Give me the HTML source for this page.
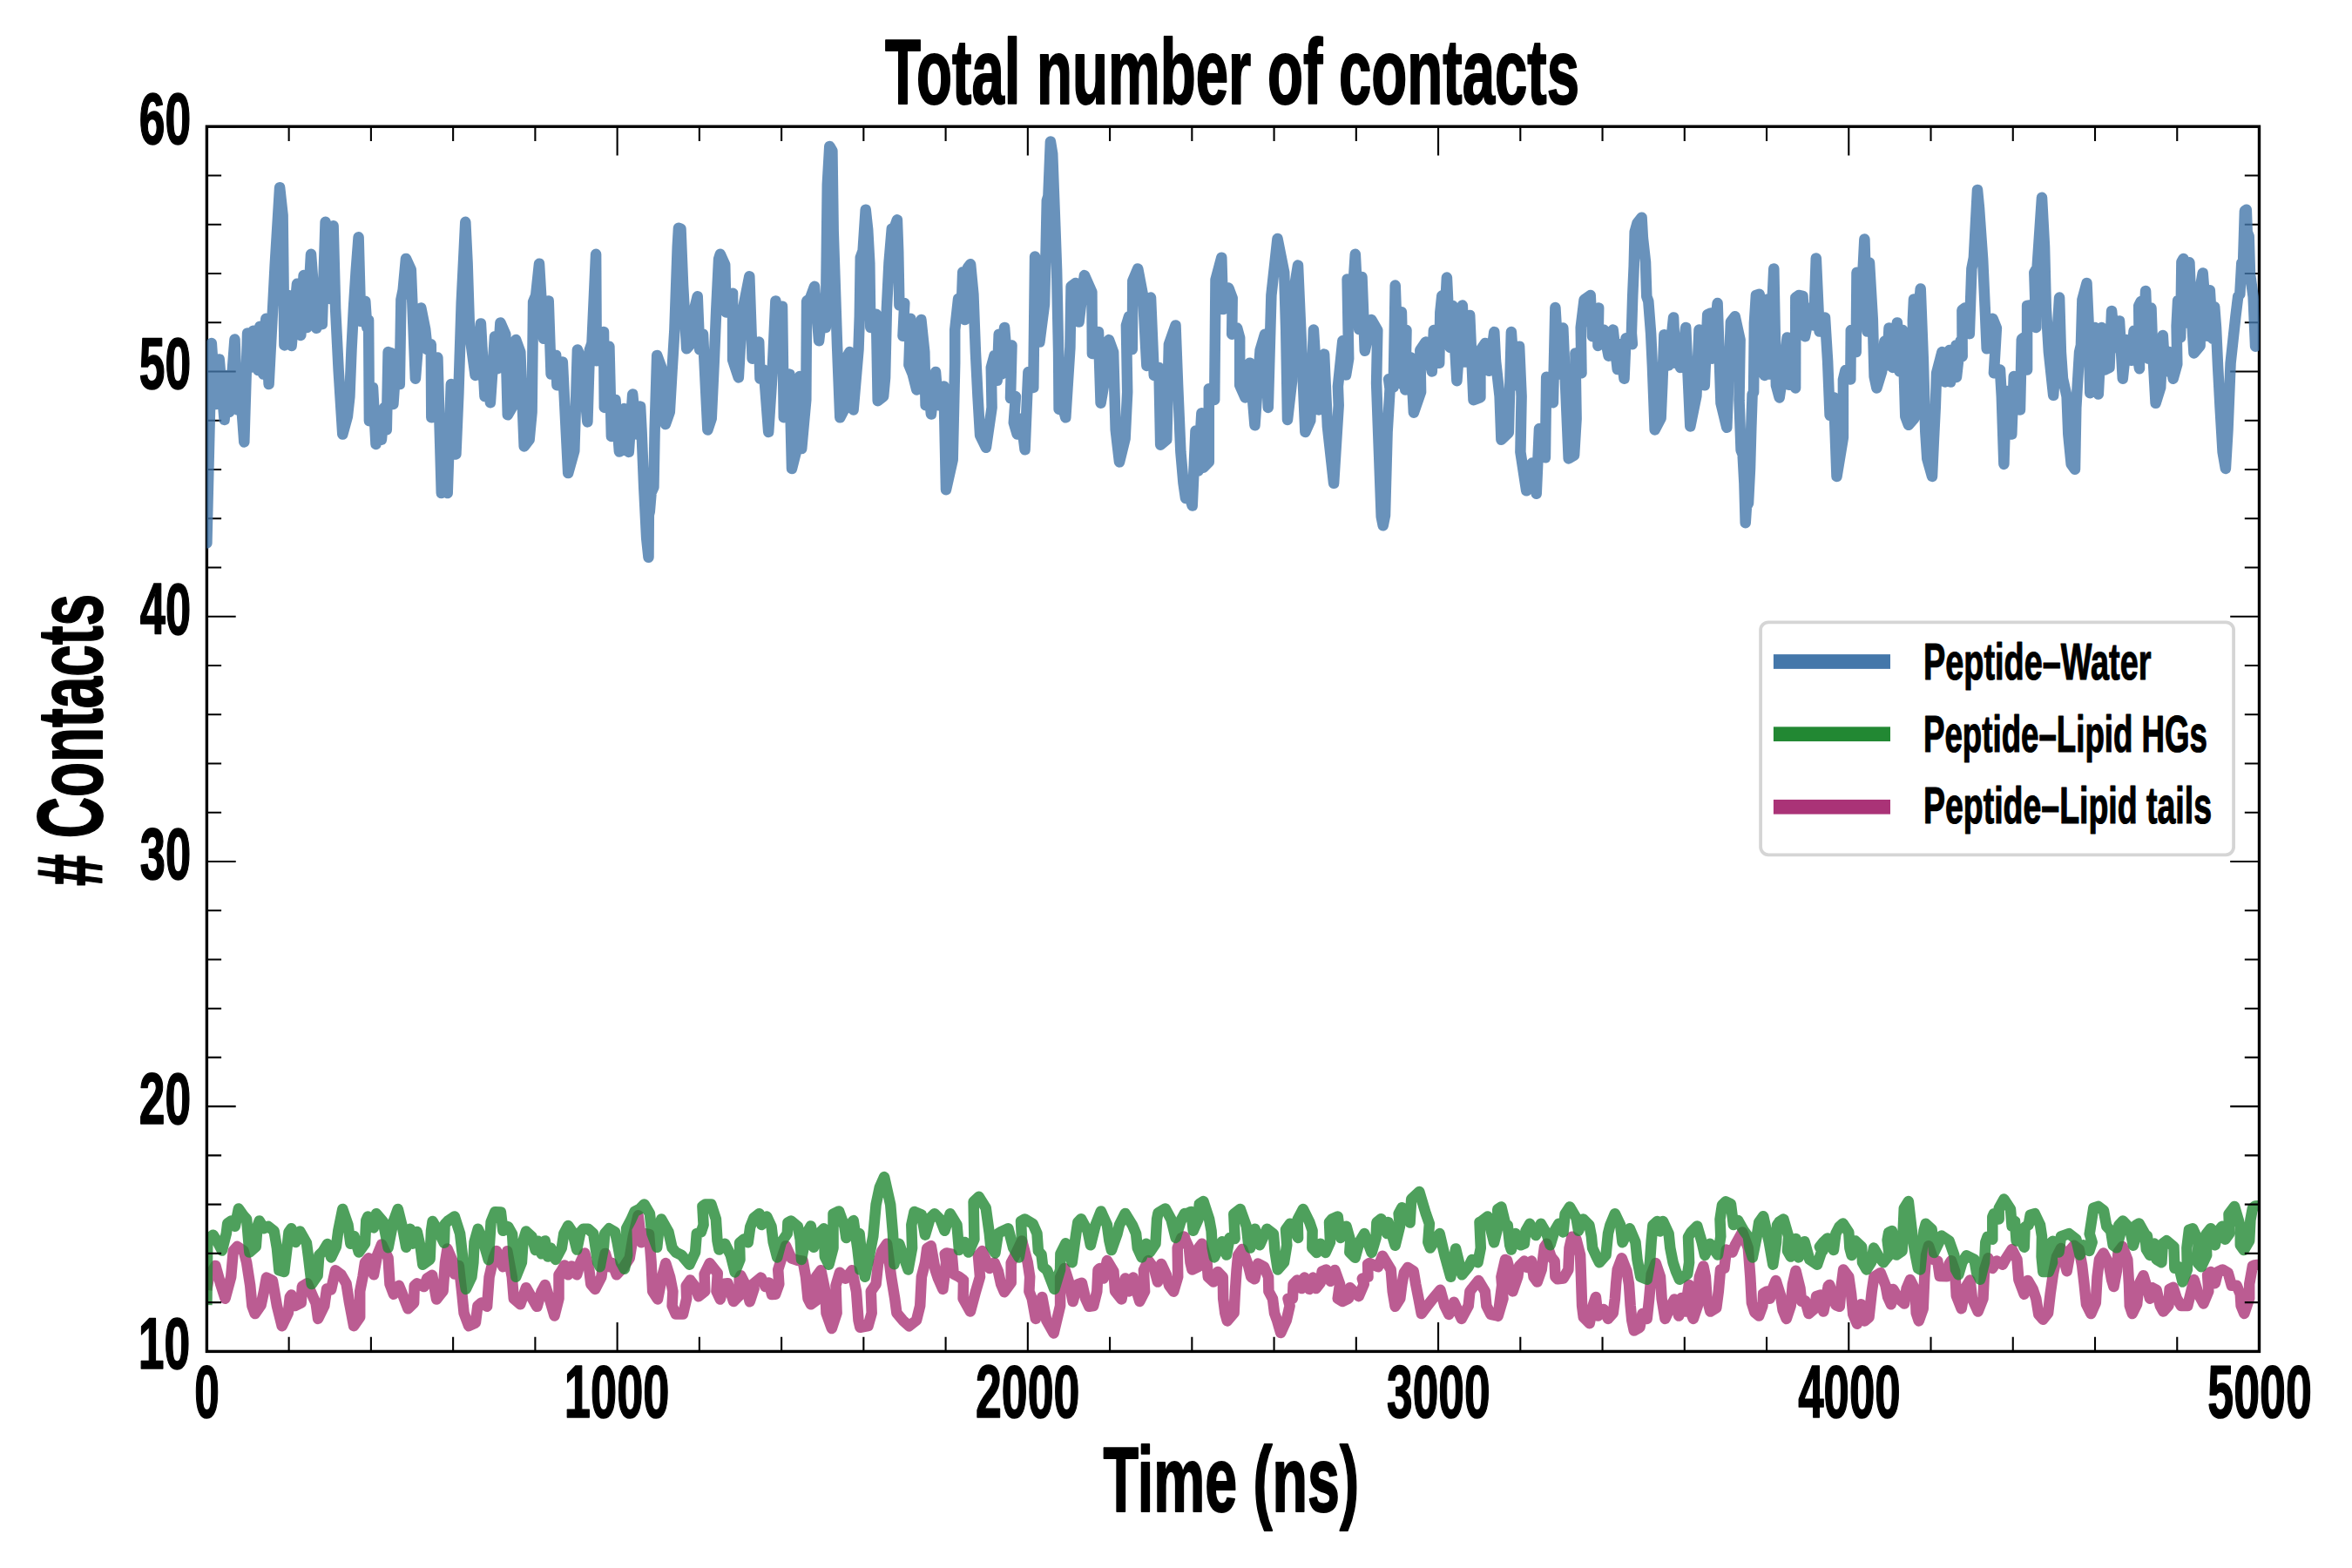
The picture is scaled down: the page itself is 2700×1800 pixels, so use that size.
<!DOCTYPE html>
<html><head><meta charset="utf-8"><title>Total number of contacts</title>
<style>
html,body{margin:0;padding:0;background:#fff;}
body{width:2700px;height:1800px;overflow:hidden;}
svg{display:block;}
text{font-family:"Liberation Sans",sans-serif;font-weight:bold;fill:#000;}
</style></head><body>
<svg width="2700" height="1800" viewBox="0 0 2700 1800">
<rect x="0" y="0" width="2700" height="1800" fill="#ffffff"/>
<defs><clipPath id="ax"><rect x="237.40" y="145.25" width="2356.10" height="1406.15"/></clipPath></defs>

<g clip-path="url(#ax)">
<polyline points="237.4,1480.7 239.9,1465.8 247.4,1452.9 253.2,1474.1 258.5,1490.7 265.2,1465.8 267.8,1436.0 272.3,1431.0 279.7,1436.0 283.1,1449.2 287.2,1475.8 289.4,1499.0 292.7,1508.1 299.6,1498.1 303.0,1482.4 305.9,1466.6 312.9,1470.0 317.9,1499.0 323.7,1522.2 330.8,1507.3 332.8,1489.0 334.5,1486.5 338.6,1499.0 345.7,1495.7 346.9,1476.6 352.7,1473.3 360.2,1490.7 362.6,1495.7 365.1,1513.9 372.3,1499.0 375.1,1479.4 380.1,1480.4 385.0,1458.3 391.7,1463.3 397.5,1473.3 400.8,1494.0 406.1,1522.2 413.2,1511.9 413.2,1482.4 416.5,1465.8 419.0,1449.2 423.2,1444.3 429.0,1463.3 433.1,1440.9 438.1,1428.5 445.6,1444.3 447.5,1474.1 451.9,1485.7 458.0,1475.8 463.0,1488.2 468.4,1502.3 475.1,1495.7 475.7,1476.1 478.7,1473.3 486.7,1477.1 490.3,1467.5 496.1,1463.8 501.1,1491.5 508.6,1482.1 511.0,1449.2 513.5,1433.5 520.2,1449.2 521.8,1462.5 526.8,1452.9 530.1,1482.4 532.6,1507.3 538.1,1522.2 545.9,1518.5 548.4,1499.0 552.5,1495.7 559.1,1499.8 561.6,1465.8 566.6,1444.3 569.9,1436.0 577.4,1454.2 582.3,1436.3 587.8,1465.8 589.8,1490.7 597.3,1497.3 603.9,1478.2 616.3,1499.8 616.6,1499.8 621.6,1482.4 625.7,1474.9 630.7,1490.7 636.5,1510.6 641.5,1490.7 641.5,1463.3 644.4,1459.2 648.1,1452.5 652.2,1463.3 656.4,1453.4 662.2,1463.3 666.3,1449.2 671.3,1438.5 676.3,1457.5 678.3,1474.1 683.2,1479.9 690.4,1465.8 692.5,1449.2 694.8,1438.9 699.5,1454.2 702.8,1450.1 707.8,1463.3 716.1,1454.2 722.7,1444.3 726.8,1419.4 732.6,1395.3 736.3,1426.3 740.1,1416.1 745.1,1416.9 747.6,1449.2 749.2,1482.4 755.0,1491.5 760.0,1465.8 764.2,1450.1 769.1,1465.8 772.4,1482.4 771.6,1499.0 775.8,1508.6 784.0,1508.6 788.2,1490.7 787.7,1476.1 792.3,1469.5 797.3,1476.1 802.0,1488.2 809.3,1482.4 808.6,1462.8 814.7,1450.1 823.8,1461.7 822.5,1482.4 826.8,1491.5 831.3,1473.8 835.5,1473.3 842.1,1494.0 848.7,1487.4 848.7,1467.8 850.4,1464.2 856.2,1475.8 860.7,1494.3 865.6,1479.4 864.5,1474.1 873.6,1466.6 878.6,1477.1 882.7,1472.4 886.0,1486.0 890.2,1485.7 894.3,1474.1 893.2,1457.5 896.8,1445.9 902.1,1430.2 908.4,1444.3 915.0,1446.7 921.7,1447.6 925.0,1465.8 927.5,1490.7 930.8,1497.3 938.3,1492.0 936.9,1465.8 942.4,1458.3 947.4,1482.4 948.5,1507.3 954.8,1525.0 960.6,1507.3 959.5,1475.8 964.0,1460.8 970.6,1467.8 978.0,1458.3 983.0,1482.4 985.5,1515.6 987.4,1523.8 996.5,1522.2 1000.7,1507.3 999.8,1482.4 1005.6,1474.1 1008.1,1450.1 1012.3,1436.3 1018.1,1427.7 1023.1,1465.8 1027.2,1490.7 1029.4,1507.3 1036.3,1515.6 1043.5,1522.2 1052.1,1515.6 1056.2,1499.0 1057.9,1465.8 1062.0,1449.6 1064.2,1433.0 1068.7,1430.2 1073.6,1457.5 1076.9,1467.5 1082.4,1479.9 1086.1,1449.2 1084.7,1439.6 1086.6,1438.5 1092.7,1439.6 1094.7,1462.5 1101.0,1465.8 1106.0,1469.5 1105.6,1490.7 1113.9,1505.6 1120.1,1482.4 1125.0,1465.8 1122.9,1441.3 1127.5,1436.0 1135.8,1455.9 1141.6,1449.6 1145.8,1459.2 1149.1,1474.1 1152.9,1483.2 1160.7,1472.4 1160.7,1449.6 1164.3,1442.9 1173.1,1424.4 1179.7,1449.2 1182.2,1465.8 1181.4,1482.4 1184.7,1490.7 1188.9,1513.9 1196.3,1489.0 1201.3,1515.6 1209.6,1530.5 1217.1,1499.0 1217.1,1466.1 1222.0,1455.9 1227.8,1474.1 1231.6,1494.0 1237.0,1474.4 1241.9,1472.8 1246.1,1490.7 1250.2,1499.8 1255.2,1499.0 1259.3,1482.4 1260.5,1457.9 1262.7,1455.9 1266.8,1467.5 1270.9,1447.1 1278.4,1459.5 1280.1,1482.4 1287.5,1491.5 1291.7,1467.5 1296.3,1482.4 1300.8,1466.6 1304.9,1482.4 1308.3,1494.0 1314.1,1482.4 1312.9,1457.9 1318.2,1447.1 1324.8,1455.9 1329.0,1471.6 1333.1,1450.9 1338.9,1463.3 1342.2,1475.8 1347.2,1482.7 1352.2,1465.8 1351.7,1432.6 1356.3,1421.0 1360.0,1420.2 1359.1,1419.4 1364.9,1432.6 1366.5,1449.2 1368.5,1457.5 1375.6,1454.2 1376.1,1432.6 1379.8,1427.7 1385.6,1449.2 1386.8,1465.8 1393.1,1471.6 1398.0,1460.0 1403.8,1466.1 1404.2,1490.7 1406.3,1507.3 1408.8,1516.4 1416.6,1507.3 1417.9,1482.4 1419.6,1457.5 1421.2,1440.9 1426.2,1434.0 1432.9,1452.5 1436.2,1465.8 1440.3,1468.3 1444.1,1450.6 1451.1,1454.2 1456.1,1466.1 1456.4,1482.4 1461.0,1491.0 1463.0,1507.3 1466.0,1515.6 1470.2,1530.1 1476.8,1515.6 1480.6,1499.0 1478.5,1490.7 1483.9,1490.7 1484.6,1474.1 1489.2,1469.5 1494.2,1479.1 1497.5,1466.6 1503.3,1479.9 1507.5,1466.6 1510.8,1479.1 1515.8,1472.4 1517.7,1459.5 1522.4,1457.5 1527.4,1470.8 1532.3,1457.9 1538.1,1474.1 1535.7,1490.7 1541.0,1494.0 1548.1,1490.7 1549.7,1478.2 1559.7,1488.2 1565.8,1474.1 1563.8,1467.8 1570.5,1465.8 1570.1,1451.2 1572.1,1450.1 1582.1,1454.2 1587.1,1441.8 1596.7,1457.5 1598.7,1482.4 1601.6,1499.8 1607.3,1490.7 1609.4,1474.1 1611.9,1460.8 1616.1,1455.0 1622.7,1459.2 1625.2,1474.1 1628.5,1490.7 1631.8,1508.1 1638.5,1499.0 1645.1,1490.7 1653.4,1480.7 1658.4,1499.0 1663.3,1508.9 1669.1,1494.8 1677.8,1513.9 1685.7,1499.0 1687.4,1482.4 1689.9,1479.1 1697.3,1470.0 1704.8,1482.4 1706.4,1499.0 1711.4,1508.9 1719.7,1510.6 1725.5,1490.7 1723.4,1465.8 1728.0,1445.9 1719.6,1510.9 1724.1,1490.7 1725.8,1465.8 1730.2,1447.2 1734.9,1465.8 1736.5,1482.4 1742.3,1465.8 1744.0,1453.4 1749.8,1447.6 1753.1,1455.0 1758.1,1447.6 1760.6,1465.8 1764.7,1471.6 1769.7,1457.5 1771.7,1440.9 1773.0,1431.3 1775.5,1427.7 1780.5,1442.6 1784.6,1447.6 1785.4,1465.8 1787.9,1468.3 1794.6,1467.5 1800.4,1457.5 1801.5,1432.6 1804.5,1419.7 1809.5,1422.7 1814.1,1440.9 1815.0,1465.8 1816.1,1499.0 1817.8,1512.2 1824.7,1519.2 1828.6,1499.0 1831.9,1489.0 1834.4,1510.6 1841.0,1503.1 1846.0,1513.9 1851.8,1507.3 1853.9,1490.7 1855.1,1474.1 1856.7,1457.5 1861.7,1444.3 1867.5,1459.2 1870.0,1474.1 1871.7,1499.0 1873.3,1515.6 1875.8,1527.5 1882.4,1523.8 1885.4,1508.1 1890.7,1513.9 1893.2,1490.7 1895.7,1462.5 1900.7,1450.1 1906.0,1465.8 1907.6,1490.7 1911.5,1513.9 1918.1,1499.0 1922.2,1491.5 1927.2,1510.6 1930.5,1489.9 1934.2,1505.6 1938.8,1474.9 1941.3,1507.3 1943.8,1513.9 1948.8,1499.0 1950.8,1465.8 1955.4,1453.4 1957.9,1465.8 1959.5,1490.7 1963.4,1505.6 1970.3,1501.5 1972.8,1482.4 1975.0,1457.5 1979.4,1455.9 1981.9,1434.6 1988.6,1437.6 1991.9,1429.3 2000.2,1414.4 2006.8,1432.6 2009.3,1465.8 2010.9,1495.7 2014.3,1506.4 2019.2,1510.6 2023.4,1499.0 2024.2,1484.9 2028.4,1482.4 2031.7,1490.7 2035.0,1479.1 2038.6,1470.0 2044.1,1487.4 2046.6,1503.9 2050.7,1513.9 2055.7,1499.0 2057.9,1474.1 2061.5,1458.8 2066.5,1479.1 2068.1,1494.0 2072.3,1493.2 2076.4,1508.1 2083.1,1502.3 2085.1,1488.2 2089.7,1486.5 2093.0,1504.8 2097.7,1482.4 2098.8,1476.1 2093.3,1505.6 2097.4,1485.7 2100.2,1474.9 2104.9,1489.0 2107.4,1498.1 2111.8,1499.8 2114.0,1474.1 2116.1,1457.5 2122.3,1465.8 2125.1,1485.7 2127.3,1508.9 2131.9,1519.7 2136.4,1497.3 2140.5,1516.4 2145.5,1512.2 2148.8,1482.4 2151.3,1465.8 2158.8,1461.2 2164.6,1475.8 2167.1,1489.0 2170.9,1497.3 2173.2,1479.9 2179.5,1490.7 2186.1,1496.5 2188.6,1479.1 2192.8,1469.1 2198.6,1480.7 2199.7,1507.3 2202.7,1516.4 2207.7,1502.3 2209.3,1465.8 2211.0,1440.9 2214.0,1430.2 2219.3,1445.9 2224.3,1447.6 2226.7,1465.0 2235.0,1465.3 2237.5,1450.9 2240.0,1447.2 2244.2,1459.2 2245.8,1487.4 2251.6,1502.3 2255.8,1479.1 2261.6,1469.5 2264.0,1490.7 2270.7,1505.6 2276.5,1490.7 2278.1,1457.5 2282.3,1444.3 2287.3,1455.9 2292.2,1447.6 2298.9,1451.7 2303.0,1444.3 2309.6,1434.0 2315.5,1445.9 2317.4,1469.1 2323.7,1485.7 2327.9,1470.0 2333.7,1479.9 2337.3,1490.7 2340.3,1508.9 2345.3,1514.7 2351.1,1507.3 2353.6,1485.7 2356.9,1462.5 2361.0,1442.6 2366.0,1433.0 2372.7,1459.2 2377.1,1434.3 2380.9,1429.8 2386.7,1434.3 2390.1,1452.5 2392.6,1474.1 2395.0,1497.3 2400.3,1508.1 2405.8,1495.7 2407.5,1465.8 2410.0,1445.9 2414.6,1438.5 2420.7,1450.1 2424.1,1469.1 2426.5,1477.1 2429.9,1459.2 2431.5,1437.6 2436.5,1431.0 2442.3,1445.9 2444.0,1474.1 2444.8,1499.0 2447.8,1508.1 2453.1,1497.3 2455.6,1474.1 2460.5,1464.2 2465.5,1480.7 2468.0,1490.7 2470.7,1478.2 2475.6,1480.7 2479.8,1498.9 2483.4,1505.5 2489.4,1498.9 2490.6,1479.8 2494.7,1477.7 2498.8,1490.6 2503.8,1498.9 2511.3,1498.9 2515.4,1482.3 2518.7,1469.1 2523.7,1485.6 2529.5,1496.4 2535.3,1482.3 2534.1,1463.3 2537.8,1460.0 2542.8,1473.2 2546.1,1460.0 2551.4,1457.5 2557.7,1461.1 2561.8,1475.7 2567.6,1475.7 2571.8,1485.6 2572.6,1498.9 2576.3,1508.0 2582.2,1490.6 2582.2,1474.0 2585.9,1453.3 2588.8,1452.2 2594.2,1451.8" fill="none" stroke="#AA3377" stroke-opacity="0.8" stroke-width="12.5" stroke-linejoin="round" stroke-linecap="butt"/>
<polyline points="237.4,1498.1 238.3,1422.7 244.6,1417.7 249.9,1426.0 254.9,1435.6 259.8,1416.1 261.2,1404.5 265.6,1401.5 269.8,1407.8 273.9,1387.5 279.7,1395.8 283.1,1399.5 286.4,1437.6 293.8,1431.0 295.5,1407.8 297.7,1401.5 303.0,1410.3 307.9,1407.8 314.6,1413.1 317.9,1432.6 320.4,1458.3 326.2,1460.0 329.5,1432.6 331.5,1414.4 334.5,1410.3 339.4,1426.0 344.4,1413.6 351.9,1426.8 354.0,1442.6 357.7,1474.1 364.6,1464.2 366.3,1440.9 370.9,1436.3 375.9,1428.0 380.1,1443.4 385.9,1431.0 388.3,1412.8 393.3,1387.9 399.5,1406.1 402.4,1427.7 406.6,1419.1 411.9,1437.6 419.0,1427.7 420.3,1401.1 422.3,1396.5 429.0,1409.4 432.0,1393.2 439.7,1402.3 445.6,1432.2 451.4,1402.8 456.8,1387.9 462.1,1409.4 466.3,1431.8 470.8,1410.8 473.7,1427.7 478.7,1413.9 482.9,1432.6 485.3,1451.7 493.6,1445.6 495.0,1412.8 496.6,1402.0 503.6,1414.4 509.9,1426.8 510.6,1405.3 514.4,1401.5 521.8,1396.5 528.1,1416.1 530.9,1440.9 532.6,1465.8 534.8,1479.9 541.4,1465.8 543.4,1449.2 544.5,1426.0 548.7,1410.8 554.2,1423.5 560.8,1446.2 563.6,1402.8 568.3,1391.2 574.9,1391.5 577.4,1412.8 583.2,1408.1 588.1,1416.9 589.5,1440.9 592.3,1465.8 598.9,1449.2 600.6,1424.4 603.9,1413.6 610.5,1419.7 614.7,1435.1 617.9,1424.7 621.6,1439.3 625.7,1424.4 629.0,1442.6 632.3,1432.6 637.8,1445.9 644.8,1432.6 647.3,1416.1 652.2,1406.9 657.2,1414.4 662.2,1434.6 666.3,1414.4 669.6,1410.8 675.4,1410.8 681.2,1416.1 683.7,1432.6 686.2,1449.2 688.7,1454.2 692.9,1432.6 694.2,1416.1 699.2,1410.3 706.1,1414.4 708.6,1426.0 712.8,1449.2 716.9,1456.7 720.2,1440.9 719.1,1410.3 724.4,1400.3 728.5,1390.9 734.3,1387.9 739.6,1382.4 745.9,1393.2 748.4,1416.1 754.2,1431.8 756.7,1407.8 759.2,1399.5 767.5,1414.4 771.6,1432.6 775.8,1437.6 782.4,1440.9 791.5,1451.7 798.1,1437.6 799.8,1416.1 804.8,1414.4 807.6,1406.1 806.4,1384.6 809.7,1382.4 816.4,1382.4 821.9,1399.5 823.5,1424.4 825.5,1434.6 832.1,1427.7 838.8,1440.9 843.7,1460.5 849.5,1445.9 849.0,1426.8 853.7,1422.7 858.7,1426.3 861.2,1408.6 865.3,1398.2 871.6,1393.2 874.4,1406.1 880.2,1396.5 885.5,1407.8 887.7,1426.0 892.2,1443.4 896.8,1426.0 899.3,1422.7 903.8,1416.1 904.4,1403.6 908.1,1401.6 915.9,1408.1 918.7,1422.7 920.0,1445.9 925.8,1416.1 930.8,1407.4 934.1,1431.8 939.9,1416.1 945.7,1410.3 946.9,1442.6 951.5,1451.7 956.5,1432.6 956.5,1393.7 963.1,1390.4 969.4,1407.8 971.4,1421.0 975.6,1406.1 979.7,1401.1 984.3,1432.6 987.2,1457.5 986.6,1416.1 989.1,1440.9 992.9,1465.8 999.0,1436.0 1002.3,1419.4 1005.6,1382.9 1009.8,1363.0 1015.1,1351.1 1022.2,1382.9 1025.0,1416.1 1026.4,1451.2 1032.2,1427.7 1042.5,1457.5 1047.1,1432.6 1046.3,1406.1 1049.6,1390.9 1057.9,1394.5 1062.0,1417.7 1067.8,1398.2 1072.8,1393.2 1079.4,1399.8 1084.4,1412.8 1090.7,1393.2 1098.5,1406.1 1101.0,1435.1 1107.6,1426.0 1111.8,1437.6 1118.4,1422.7 1117.6,1379.6 1123.7,1373.8 1131.7,1386.6 1135.8,1416.1 1137.1,1429.3 1142.4,1438.5 1145.8,1416.1 1149.9,1413.6 1157.4,1410.3 1163.2,1432.6 1169.8,1443.4 1173.1,1424.4 1172.0,1402.0 1176.4,1399.5 1185.6,1404.8 1190.5,1416.1 1191.9,1436.0 1195.5,1440.1 1197.2,1454.2 1202.1,1458.3 1210.4,1479.9 1217.1,1457.5 1217.4,1439.3 1223.4,1427.3 1230.7,1449.2 1235.3,1416.1 1237.3,1403.1 1241.1,1399.2 1248.6,1413.1 1251.9,1429.3 1257.7,1406.1 1263.8,1390.4 1270.9,1406.1 1273.4,1424.4 1275.9,1435.1 1282.6,1416.1 1285.0,1406.1 1291.7,1392.9 1300.0,1406.5 1304.1,1416.1 1305.8,1432.6 1310.7,1443.4 1315.7,1427.7 1319.9,1437.6 1326.5,1427.7 1328.1,1399.5 1329.5,1392.4 1337.8,1387.5 1344.4,1399.8 1349.7,1421.0 1356.3,1399.5 1360.0,1392.9 1354.9,1402.8 1359.9,1394.5 1367.4,1390.9 1369.8,1412.8 1375.6,1399.5 1376.8,1382.1 1381.5,1379.1 1388.1,1399.5 1390.6,1413.1 1391.7,1432.6 1393.9,1443.4 1403.0,1425.2 1408.0,1440.6 1411.6,1421.0 1417.6,1421.9 1416.3,1393.7 1423.7,1387.9 1430.9,1407.8 1432.9,1426.0 1435.3,1432.6 1440.6,1410.8 1446.1,1429.3 1454.4,1410.8 1461.9,1416.4 1463.5,1436.0 1466.8,1457.5 1474.0,1449.2 1477.3,1429.3 1476.0,1411.4 1480.9,1404.8 1490.1,1421.0 1489.6,1399.8 1495.9,1387.9 1503.3,1403.1 1506.6,1412.8 1506.3,1432.6 1511.6,1438.0 1515.8,1427.7 1521.6,1438.0 1527.0,1426.0 1526.0,1403.1 1529.0,1399.5 1535.7,1396.5 1539.0,1421.0 1545.6,1407.8 1550.2,1424.4 1549.3,1437.6 1555.6,1443.8 1560.5,1426.0 1566.3,1416.1 1574.6,1438.0 1579.6,1421.0 1580.4,1403.1 1585.4,1399.2 1592.0,1416.1 1593.7,1403.1 1601.6,1429.7 1607.0,1407.8 1605.6,1393.2 1609.4,1386.2 1618.6,1403.6 1620.2,1376.6 1629.3,1368.0 1636.8,1393.2 1640.9,1404.8 1639.3,1426.0 1641.8,1432.6 1652.6,1416.1 1658.4,1440.9 1665.3,1465.8 1671.1,1433.5 1678.3,1463.3 1685.7,1454.2 1689.9,1445.9 1696.5,1449.2 1699.8,1432.6 1698.5,1403.1 1700.6,1402.0 1707.8,1396.5 1715.1,1426.3 1719.7,1407.8 1719.2,1388.2 1723.4,1385.4 1728.8,1407.8 1730.7,1406.5 1733.2,1429.3 1734.9,1434.6 1739.8,1416.1 1745.6,1429.3 1749.8,1427.7 1751.5,1412.8 1756.1,1404.8 1763.1,1418.1 1768.9,1404.8 1775.5,1416.1 1779.6,1429.3 1784.6,1412.8 1789.3,1404.8 1794.6,1414.4 1796.6,1393.7 1802.0,1385.4 1809.5,1398.2 1812.0,1412.8 1817.4,1399.5 1824.4,1406.5 1826.9,1419.4 1828.1,1432.6 1832.7,1442.6 1836.0,1449.2 1843.5,1440.9 1846.0,1416.1 1848.5,1406.1 1853.9,1393.2 1860.1,1406.1 1862.5,1426.3 1868.8,1412.8 1870.8,1410.3 1877.5,1426.0 1879.5,1445.9 1883.3,1465.8 1890.7,1468.8 1894.0,1449.2 1895.7,1424.4 1897.4,1406.5 1902.3,1402.0 1905.7,1413.6 1909.0,1402.0 1915.6,1416.1 1917.3,1432.6 1920.6,1449.2 1923.9,1459.2 1928.0,1468.8 1937.2,1462.5 1939.1,1449.2 1938.0,1420.2 1941.3,1414.4 1948.3,1407.4 1953.7,1426.0 1957.1,1440.9 1962.9,1427.7 1972.0,1440.6 1975.3,1419.4 1974.5,1399.8 1977.0,1383.2 1981.1,1379.3 1986.9,1382.1 1989.9,1406.1 1995.2,1401.1 2001.8,1412.8 2006.8,1419.4 2008.5,1432.6 2011.8,1443.4 2016.7,1419.4 2019.2,1403.1 2024.2,1396.2 2030.8,1426.0 2035.3,1451.7 2039.1,1426.0 2040.0,1406.5 2042.4,1402.8 2047.4,1399.5 2053.2,1419.4 2051.9,1436.0 2055.7,1442.6 2061.5,1421.9 2064.8,1443.4 2071.5,1425.2 2077.3,1445.9 2086.1,1451.7 2091.4,1436.0 2088.9,1431.3 2093.0,1426.0 2098.0,1421.4 2092.4,1436.0 2091.3,1431.8 2098.2,1422.7 2104.9,1435.1 2107.4,1416.1 2111.5,1408.1 2115.6,1404.5 2122.3,1414.7 2123.4,1432.6 2125.6,1440.9 2129.7,1424.4 2137.2,1431.3 2138.0,1449.2 2142.7,1457.5 2148.0,1449.2 2151.0,1432.6 2157.9,1444.3 2162.1,1449.2 2168.7,1440.9 2166.6,1423.5 2168.2,1414.7 2172.0,1413.1 2177.0,1440.6 2183.6,1436.0 2184.5,1416.1 2185.8,1387.1 2190.8,1379.1 2193.2,1399.5 2196.1,1424.4 2198.9,1440.9 2201.9,1455.9 2204.4,1457.5 2206.8,1432.6 2208.5,1412.8 2210.7,1404.8 2217.6,1411.1 2220.1,1438.0 2225.9,1426.0 2228.9,1418.6 2237.5,1424.4 2243.3,1440.9 2245.0,1457.5 2248.3,1463.3 2252.4,1449.2 2257.4,1441.3 2266.5,1445.9 2269.0,1460.8 2273.2,1468.8 2278.1,1449.2 2279.3,1426.0 2281.5,1419.7 2287.3,1422.7 2287.3,1397.0 2288.9,1393.2 2294.7,1399.5 2294.7,1387.1 2300.5,1376.6 2308.0,1388.2 2309.6,1407.8 2313.0,1402.0 2314.6,1424.4 2317.1,1416.4 2323.7,1431.8 2324.6,1408.6 2328.7,1406.1 2330.7,1394.8 2335.8,1393.2 2342.0,1406.1 2344.0,1419.4 2343.6,1442.6 2345.3,1460.0 2351.9,1460.0 2356.1,1449.2 2354.4,1426.8 2356.6,1424.7 2363.5,1437.6 2366.0,1419.4 2375.1,1416.1 2383.4,1422.7 2387.6,1440.6 2391.7,1429.3 2398.4,1436.0 2401.7,1426.0 2398.7,1416.4 2401.3,1399.5 2403.3,1386.6 2408.6,1384.9 2414.9,1389.5 2418.3,1407.8 2423.2,1413.1 2425.7,1429.3 2429.9,1432.3 2434.0,1416.1 2432.3,1406.5 2437.0,1401.5 2444.8,1409.8 2448.9,1429.7 2453.1,1416.1 2452.2,1406.5 2455.6,1404.5 2462.2,1416.4 2463.9,1434.3 2468.0,1440.9 2464.9,1418.8 2467.3,1439.6 2473.2,1427.6 2475.6,1445.9 2481.4,1449.2 2482.8,1427.6 2487.2,1424.3 2495.5,1431.3 2496.4,1455.8 2501.3,1454.2 2505.5,1471.6 2510.9,1457.5 2510.4,1432.6 2512.9,1411.9 2517.1,1410.2 2523.7,1424.6 2522.5,1449.2 2527.0,1454.2 2533.2,1440.9 2532.5,1416.9 2537.8,1410.2 2542.8,1429.3 2546.1,1413.5 2551.1,1407.7 2554.4,1422.7 2559.3,1416.0 2558.5,1393.7 2565.1,1384.9 2571.8,1407.7 2571.8,1429.3 2575.9,1435.1 2582.2,1424.3 2583.4,1400.3 2585.9,1387.0 2588.8,1384.5 2594.2,1384.2" fill="none" stroke="#228833" stroke-opacity="0.8" stroke-width="12.5" stroke-linejoin="round" stroke-linecap="butt"/>
</g>
<path d="M237.40 1551.40v-33.3M237.40 145.25v33.3M331.64 1551.40v-16.7M331.64 145.25v16.7M425.89 1551.40v-16.7M425.89 145.25v16.7M520.13 1551.40v-16.7M520.13 145.25v16.7M614.38 1551.40v-16.7M614.38 145.25v16.7M708.62 1551.40v-33.3M708.62 145.25v33.3M802.86 1551.40v-16.7M802.86 145.25v16.7M897.11 1551.40v-16.7M897.11 145.25v16.7M991.35 1551.40v-16.7M991.35 145.25v16.7M1085.60 1551.40v-16.7M1085.60 145.25v16.7M1179.84 1551.40v-33.3M1179.84 145.25v33.3M1274.08 1551.40v-16.7M1274.08 145.25v16.7M1368.33 1551.40v-16.7M1368.33 145.25v16.7M1462.57 1551.40v-16.7M1462.57 145.25v16.7M1556.82 1551.40v-16.7M1556.82 145.25v16.7M1651.06 1551.40v-33.3M1651.06 145.25v33.3M1745.30 1551.40v-16.7M1745.30 145.25v16.7M1839.55 1551.40v-16.7M1839.55 145.25v16.7M1933.79 1551.40v-16.7M1933.79 145.25v16.7M2028.04 1551.40v-16.7M2028.04 145.25v16.7M2122.28 1551.40v-33.3M2122.28 145.25v33.3M2216.52 1551.40v-16.7M2216.52 145.25v16.7M2310.77 1551.40v-16.7M2310.77 145.25v16.7M2405.01 1551.40v-16.7M2405.01 145.25v16.7M2499.26 1551.40v-16.7M2499.26 145.25v16.7M2593.50 1551.40v-33.3M2593.50 145.25v33.3M237.40 1551.40h33.3M2593.50 1551.40h-33.3M237.40 1495.15h16.7M2593.50 1495.15h-16.7M237.40 1438.91h16.7M2593.50 1438.91h-16.7M237.40 1382.66h16.7M2593.50 1382.66h-16.7M237.40 1326.42h16.7M2593.50 1326.42h-16.7M237.40 1270.17h33.3M2593.50 1270.17h-33.3M237.40 1213.92h16.7M2593.50 1213.92h-16.7M237.40 1157.68h16.7M2593.50 1157.68h-16.7M237.40 1101.43h16.7M2593.50 1101.43h-16.7M237.40 1045.19h16.7M2593.50 1045.19h-16.7M237.40 988.94h33.3M2593.50 988.94h-33.3M237.40 932.69h16.7M2593.50 932.69h-16.7M237.40 876.45h16.7M2593.50 876.45h-16.7M237.40 820.20h16.7M2593.50 820.20h-16.7M237.40 763.96h16.7M2593.50 763.96h-16.7M237.40 707.71h33.3M2593.50 707.71h-33.3M237.40 651.46h16.7M2593.50 651.46h-16.7M237.40 595.22h16.7M2593.50 595.22h-16.7M237.40 538.97h16.7M2593.50 538.97h-16.7M237.40 482.73h16.7M2593.50 482.73h-16.7M237.40 426.48h33.3M2593.50 426.48h-33.3M237.40 370.23h16.7M2593.50 370.23h-16.7M237.40 313.99h16.7M2593.50 313.99h-16.7M237.40 257.74h16.7M2593.50 257.74h-16.7M237.40 201.50h16.7M2593.50 201.50h-16.7M237.40 145.25h33.3M2593.50 145.25h-33.3" stroke="#000" stroke-width="2.1" fill="none"/>
<rect x="237.40" y="145.25" width="2356.10" height="1406.15" fill="none" stroke="#000" stroke-width="3.4"/>
<g clip-path="url(#ax)">
<polyline points="237.4,623.5 242.8,393.9 247.6,464.0 251.7,412.5 257.6,481.9 260.6,430.9 263.2,473.0 269.5,389.5 272.6,470.4 275.2,437.2 280.3,507.4 284.1,382.4 287.7,421.9 290.7,379.8 296.3,425.0 298.4,374.7 302.2,429.6 305.3,365.8 308.6,441.1 315.7,304.6 321.1,215.3 324.6,247.2 326.4,396.4 330.8,339.0 334.6,396.9 341.0,325.8 345.3,384.9 348.6,316.1 352.4,376.0 357.0,291.8 363.2,376.8 366.5,363.3 369.8,372.2 373.6,254.8 378.5,342.9 382.6,259.2 385.1,354.3 388.7,425.8 393.3,498.5 398.9,478.1 401.4,455.1 403.5,401.5 406.0,353.1 408.6,312.2 411.6,272.2 414.2,368.9 419.3,345.9 421.3,376.0 423.1,367.6 423.9,483.2 428.0,444.9 431.5,509.9 434.6,471.7 437.9,504.8 441.2,467.9 443.8,493.4 445.6,404.1 449.4,405.4 451.4,464.0 455.0,411.7 458.8,441.1 460.4,344.1 462.7,332.7 466.0,296.9 471.8,309.7 476.9,434.7 483.3,353.6 488.2,378.1 490.7,401.5 494.8,395.2 495.3,479.3 502.4,410.5 506.8,566.1 510.1,558.4 513.7,566.1 517.8,441.1 523.4,521.4 526.4,451.3 529.7,348.0 534.3,254.8 536.6,302.0 539.2,383.7 545.6,430.9 551.9,371.4 556.5,455.1 559.6,421.9 562.9,462.2 568.0,386.2 571.1,423.2 574.4,370.4 580.3,383.7 582.8,476.3 588.4,466.6 592.2,390.1 597.3,404.1 601.7,512.5 607.6,504.8 610.6,473.0 612.1,346.7 615.2,339.0 619.0,302.8 624.1,388.8 629.7,345.4 632.6,429.6 638.2,407.9 639.4,442.3 645.8,415.6 652.2,543.1 659.3,517.6 662.9,401.5 667.5,411.7 674.4,484.4 676.9,401.5 679.5,393.9 684.1,291.8 684.8,414.3 693.0,381.1 693.8,467.9 699.4,397.7 701.9,501.0 706.5,458.9 710.9,518.4 716.7,469.1 721.8,518.9 726.2,452.6 730.5,498.5 735.1,466.6 736.6,495.9 739.2,559.2 742.2,618.1 744.5,639.8 744.8,591.1 745.8,587.2 747.6,565.6 750.4,559.2 751.7,491.6 754.2,407.9 759.3,421.9 763.9,487.0 768.8,473.0 771.3,429.6 774.4,378.6 777.7,284.2 779.0,261.7 781.5,262.8 784.1,327.6 788.2,400.3 793.8,393.9 796.3,358.2 800.7,340.3 803.2,401.5 807.0,383.7 812.4,493.4 816.7,480.6 819.9,412.5 822.2,356.4 825.1,297.4 826.8,291.8 832.2,303.8 833.5,358.4 841.1,336.7 841.1,413.0 847.8,433.4 852.1,358.7 860.3,317.3 863.6,411.7 871.2,392.6 872.5,434.7 876.8,424.5 882.2,495.9 886.5,429.6 890.4,345.4 894.2,378.6 898.0,351.8 899.8,479.3 906.4,429.6 909.0,538.0 913.8,518.9 917.9,432.1 920.2,515.1 925.3,458.9 926.1,345.4 929.9,342.9 935.0,328.8 940.1,391.3 944.4,353.1 947.8,376.0 949.0,276.5 949.8,211.5 952.3,167.9 955.4,173.2 956.7,266.1 961.0,395.4 964.3,479.3 970.2,467.9 971.2,411.7 975.3,404.1 979.6,470.4 985.5,401.5 986.8,363.3 987.8,295.7 990.6,288.0 993.7,240.8 996.2,263.8 998.3,302.0 999.3,376.0 1005.9,360.7 1007.7,460.2 1014.1,455.1 1016.1,433.4 1017.9,354.3 1020.5,302.0 1023.8,262.5 1026.8,261.2 1029.9,252.3 1031.2,288.0 1032.4,350.5 1038.3,348.0 1036.5,385.7 1045.2,365.8 1043.4,418.9 1047.8,429.6 1052.3,447.4 1057.4,367.1 1061.3,404.1 1062.6,465.3 1065.9,442.3 1068.9,475.5 1074.0,427.0 1077.1,465.3 1083.5,443.6 1086.0,562.2 1093.7,527.8 1096.2,416.8 1096.2,378.6 1100.1,342.9 1103.4,363.3 1105.2,312.2 1107.7,367.1 1111.0,307.1 1114.1,303.3 1117.4,337.8 1119.9,404.1 1122.5,455.1 1125.1,499.7 1131.9,513.8 1138.6,467.9 1137.8,421.9 1141.6,407.9 1144.7,436.7 1146.7,383.7 1149.8,429.6 1153.1,376.0 1156.9,424.5 1161.5,396.4 1160.0,457.1 1165.9,455.1 1163.8,485.2 1167.7,498.5 1172.2,480.6 1176.6,516.3 1179.1,455.1 1180.4,427.0 1186.3,444.9 1188.1,294.4 1193.4,392.6 1199.0,349.2 1200.6,288.0 1201.8,230.4 1203.4,225.0 1205.9,162.5 1208.2,176.5 1211.3,259.2 1213.1,310.2 1215.1,404.1 1215.6,469.9 1218.2,460.2 1223.3,479.3 1228.4,399.0 1229.6,328.8 1234.7,325.0 1238.6,369.6 1244.9,316.1 1253.4,335.2 1253.9,406.1 1261.0,381.1 1263.6,462.8 1269.2,429.6 1273.0,390.1 1278.1,404.1 1280.7,493.4 1285.0,530.4 1291.6,503.6 1294.2,450.0 1292.9,373.5 1296.0,363.3 1299.8,401.0 1300.3,322.4 1306.2,308.4 1312.0,339.0 1316.4,419.9 1321.0,341.6 1324.8,430.9 1330.4,421.9 1332.2,510.7 1339.3,504.8 1341.9,395.2 1349.5,373.5 1352.1,442.3 1355.4,518.9 1358.5,554.6 1361.0,571.9 1364.8,567.3 1368.7,580.6 1372.5,494.6 1375.6,540.6 1379.4,474.2 1381.4,536.7 1387.8,530.4 1387.8,446.2 1394.2,458.9 1395.5,321.2 1402.3,295.7 1404.0,355.1 1410.4,330.6 1414.7,342.1 1414.2,383.7 1420.1,376.5 1423.2,388.0 1423.2,442.3 1429.5,456.4 1434.6,416.8 1440.5,488.3 1446.6,402.0 1452.0,383.7 1455.8,467.9 1459.4,339.0 1466.5,274.0 1474.2,312.8 1476.2,378.6 1478.0,481.9 1483.1,437.2 1483.4,345.9 1490.0,304.6 1498.4,495.9 1504.3,482.7 1507.9,378.6 1513.7,470.4 1520.1,406.6 1523.9,489.5 1531.1,554.8 1536.7,465.3 1535.9,443.6 1541.3,391.3 1545.1,430.4 1548.2,411.7 1546.6,320.4 1551.2,363.3 1555.8,291.8 1560.2,378.1 1563.5,317.9 1566.8,402.8 1574.4,367.1 1581.3,379.1 1580.1,440.1 1585.7,593.1 1587.7,603.3 1590.0,591.8 1592.6,495.9 1595.6,446.4 1594.1,435.2 1599.7,444.4 1601.7,327.6 1605.1,424.5 1608.9,358.2 1610.9,442.3 1614.5,379.1 1613.2,447.4 1619.6,410.5 1622.9,473.7 1631.1,450.0 1630.3,402.0 1636.7,392.6 1643.8,426.5 1645.9,379.1 1652.2,416.8 1653.3,358.7 1655.3,339.5 1657.9,378.6 1660.9,318.6 1664.7,399.0 1667.6,351.0 1672.4,437.2 1678.8,350.5 1681.3,415.6 1687.2,362.0 1691.5,459.2 1699.4,456.1 1699.4,402.0 1705.1,393.9 1709.4,425.8 1715.3,381.1 1717.0,414.3 1721.6,455.1 1723.4,504.8 1731.8,496.7 1734.9,381.1 1739.0,442.3 1744.1,397.7 1746.6,455.1 1745.4,518.9 1752.2,563.3 1758.6,531.6 1763.7,566.8 1767.0,492.1 1773.9,525.3 1775.2,432.7 1782.9,462.2 1785.4,353.1 1790.0,429.6 1794.3,376.5 1800.7,526.5 1807.1,522.7 1809.6,480.6 1808.4,405.4 1815.5,428.3 1814.7,376.0 1818.6,344.1 1825.7,339.0 1828.0,386.2 1835.2,353.6 1834.4,396.9 1841.0,378.6 1846.6,408.7 1851.7,378.6 1856.8,424.0 1859.9,395.2 1864.5,434.7 1866.5,388.3 1873.9,395.2 1872.9,382.4 1874.2,340.3 1875.7,305.4 1876.7,266.1 1879.5,256.1 1884.6,249.7 1885.9,273.0 1889.0,301.0 1890.3,340.3 1892.3,345.9 1895.1,382.4 1896.9,420.2 1899.7,493.4 1906.6,480.1 1908.4,439.8 1910.4,384.2 1915.5,419.4 1921.1,364.5 1923.2,416.8 1925.7,399.0 1929.0,421.9 1935.2,376.0 1940.3,489.5 1947.4,454.6 1950.5,378.6 1956.8,442.3 1960.2,361.2 1964.0,359.4 1965.3,411.7 1971.6,348.0 1975.5,462.8 1982.3,490.8 1986.9,369.6 1991.7,363.3 1997.6,390.1 1996.5,459.2 1998.6,516.6 2000.6,521.7 2002.4,554.8 2003.7,600.3 2004.9,581.6 2007.0,577.8 2009.0,538.3 2010.3,491.1 2011.6,452.8 2013.1,450.3 2013.9,370.9 2015.9,339.0 2019.7,337.8 2022.3,424.5 2025.6,430.9 2029.2,343.4 2030.7,429.6 2036.3,308.4 2038.9,442.3 2042.7,456.4 2046.5,429.6 2051.6,387.5 2053.4,441.8 2058.0,394.4 2061.1,445.4 2061.3,341.6 2064.9,339.0 2069.5,339.8 2072.0,386.2 2078.4,353.6 2082.2,373.5 2084.8,296.4 2088.6,380.6 2095.0,364.5 2098.1,414.3 2100.6,476.8 2105.2,456.4 2108.5,546.9 2115.9,502.3 2115.9,436.0 2118.5,425.0 2124.3,435.5 2124.8,379.1 2130.7,404.1 2131.5,312.8 2135.8,363.3 2140.4,274.5 2143.5,380.6 2146.0,301.5 2149.8,366.3 2151.6,432.1 2154.4,445.4 2160.1,427.0 2163.4,391.8 2166.4,419.4 2168.5,376.5 2172.8,421.9 2177.9,370.4 2180.5,426.5 2184.3,379.1 2187.3,478.1 2190.9,487.8 2197.6,480.1 2195.8,368.4 2197.0,343.4 2200.9,378.6 2204.7,331.4 2207.8,411.7 2210.3,495.9 2212.3,526.5 2218.0,546.9 2219.7,509.2 2221.8,466.6 2223.1,428.3 2229.4,404.1 2232.8,438.5 2237.9,402.0 2239.1,438.5 2245.5,396.4 2246.0,432.9 2250.6,391.3 2252.7,409.2 2252.4,356.1 2255.7,353.6 2260.8,383.2 2263.4,308.4 2265.9,295.7 2270.0,217.9 2272.0,238.8 2276.1,296.9 2278.7,353.1 2280.7,400.3 2287.6,365.8 2291.9,376.5 2288.9,428.3 2296.0,424.5 2297.8,455.1 2300.4,532.9 2302.9,448.7 2309.3,498.5 2311.8,432.1 2315.7,455.1 2319.0,470.4 2320.8,389.3 2323.3,387.5 2327.1,424.5 2327.1,351.0 2330.2,350.5 2337.3,376.0 2335.3,312.8 2338.6,307.1 2344.0,226.8 2347.0,282.9 2348.8,353.1 2351.9,404.1 2357.2,453.8 2364.1,341.6 2365.9,404.1 2368.0,434.7 2372.6,455.1 2374.3,498.5 2377.7,532.9 2382.0,538.8 2383.3,467.9 2387.1,404.1 2388.9,396.4 2390.4,344.1 2395.5,325.0 2397.6,370.9 2399.3,451.3 2404.9,376.0 2408.8,452.6 2412.6,376.0 2416.4,424.5 2421.5,421.9 2424.1,356.9 2427.9,399.0 2433.0,368.4 2436.8,434.7 2441.4,390.1 2446.5,413.8 2449.6,379.8 2456.0,423.2 2455.2,351.0 2457.8,345.9 2459.8,404.1 2463.1,333.9 2466.2,411.7 2469.5,353.6 2471.3,404.1 2474.6,462.8 2480.2,444.9 2482.8,384.9 2485.3,426.5 2490.4,404.1 2494.7,434.7 2499.3,418.1 2498.6,374.0 2500.1,344.9 2503.2,387.5 2504.4,300.8 2506.5,296.9 2510.3,370.4 2513.4,301.3 2515.9,363.3 2518.5,405.4 2525.6,396.9 2526.1,328.8 2528.7,313.5 2534.3,385.7 2536.8,333.2 2540.2,388.8 2542.2,352.3 2544.0,376.0 2546.0,419.4 2548.6,467.9 2551.6,518.9 2554.9,538.0 2557.5,493.4 2560.6,416.8 2566.4,363.3 2569.2,340.3 2571.3,337.8 2573.3,302.0 2575.1,299.5 2576.9,242.1 2578.8,240.7 2579.7,266.3 2581.7,271.4 2583.0,314.8 2586.6,340.3 2589.1,397.7" fill="none" stroke="#4477AA" stroke-opacity="0.8" stroke-width="12.5" stroke-linejoin="round" stroke-linecap="round"/>
</g>
<rect x="2021.1" y="714.3" width="543" height="267" rx="9" ry="9" fill="#ffffff" fill-opacity="0.8" stroke="#d5d5d5" stroke-width="3.8"/>
<rect x="2035.9" y="917.95" width="134.1" height="16.7" fill="#AA3377"/>
<rect x="2035.9" y="834.35" width="134.1" height="16.7" fill="#228833"/>
<rect x="2035.9" y="751.15" width="134.1" height="16.7" fill="#4477AA"/>
<text x="1016.00" y="119.30" font-size="104.80" textLength="797.01" lengthAdjust="spacingAndGlyphs" stroke="#000" stroke-width="2.0" stroke-linejoin="round">Total number of contacts</text>
<text x="1266.50" y="1734.60" font-size="104.80" textLength="293.51" lengthAdjust="spacingAndGlyphs" stroke="#000" stroke-width="2.0" stroke-linejoin="round">Time (ns)</text>
<g transform="translate(117.20,1017.00) rotate(-90)"><text x="0.00" y="0.00" font-size="106.40" textLength="335.01" lengthAdjust="spacingAndGlyphs" stroke="#000" stroke-width="2.0" stroke-linejoin="round"># Contacts</text></g>
<text x="223.35" y="1626.80" font-size="84.35" textLength="28.64" lengthAdjust="spacingAndGlyphs" stroke="#000" stroke-width="1.6" stroke-linejoin="round">0</text>
<text x="647.85" y="1626.80" font-size="84.35" textLength="120.60" lengthAdjust="spacingAndGlyphs" stroke="#000" stroke-width="1.6" stroke-linejoin="round">1000</text>
<text x="1119.95" y="1626.80" font-size="84.37" textLength="119.55" lengthAdjust="spacingAndGlyphs" stroke="#000" stroke-width="1.6" stroke-linejoin="round">2000</text>
<text x="1592.05" y="1626.80" font-size="84.37" textLength="118.52" lengthAdjust="spacingAndGlyphs" stroke="#000" stroke-width="1.6" stroke-linejoin="round">3000</text>
<text x="2064.15" y="1626.80" font-size="84.35" textLength="117.53" lengthAdjust="spacingAndGlyphs" stroke="#000" stroke-width="1.6" stroke-linejoin="round">4000</text>
<text x="2534.25" y="1626.80" font-size="84.35" textLength="119.55" lengthAdjust="spacingAndGlyphs" stroke="#000" stroke-width="1.6" stroke-linejoin="round">5000</text>
<text x="158.80" y="1571.30" font-size="82.69" textLength="59.46" lengthAdjust="spacingAndGlyphs" stroke="#000" stroke-width="1.6" stroke-linejoin="round">10</text>
<text x="159.80" y="1290.15" font-size="82.73" textLength="59.38" lengthAdjust="spacingAndGlyphs" stroke="#000" stroke-width="1.6" stroke-linejoin="round">20</text>
<text x="160.80" y="1009.00" font-size="82.73" textLength="58.28" lengthAdjust="spacingAndGlyphs" stroke="#000" stroke-width="1.6" stroke-linejoin="round">30</text>
<text x="160.80" y="727.85" font-size="82.69" textLength="58.28" lengthAdjust="spacingAndGlyphs" stroke="#000" stroke-width="1.6" stroke-linejoin="round">40</text>
<text x="159.80" y="445.70" font-size="82.69" textLength="59.38" lengthAdjust="spacingAndGlyphs" stroke="#000" stroke-width="1.6" stroke-linejoin="round">50</text>
<text x="159.80" y="164.55" font-size="82.69" textLength="59.38" lengthAdjust="spacingAndGlyphs" stroke="#000" stroke-width="1.6" stroke-linejoin="round">60</text>
<text x="2208.00" y="779.80" font-size="58.70" textLength="261.51" lengthAdjust="spacingAndGlyphs" stroke="#000" stroke-width="1.2" stroke-linejoin="round">Peptide–Water</text>
<text x="2208.00" y="862.60" font-size="58.70" textLength="326.01" lengthAdjust="spacingAndGlyphs" stroke="#000" stroke-width="1.2" stroke-linejoin="round">Peptide–Lipid HGs</text>
<text x="2208.00" y="945.10" font-size="58.70" textLength="331.01" lengthAdjust="spacingAndGlyphs" stroke="#000" stroke-width="1.2" stroke-linejoin="round">Peptide–Lipid tails</text>
</svg></body></html>
